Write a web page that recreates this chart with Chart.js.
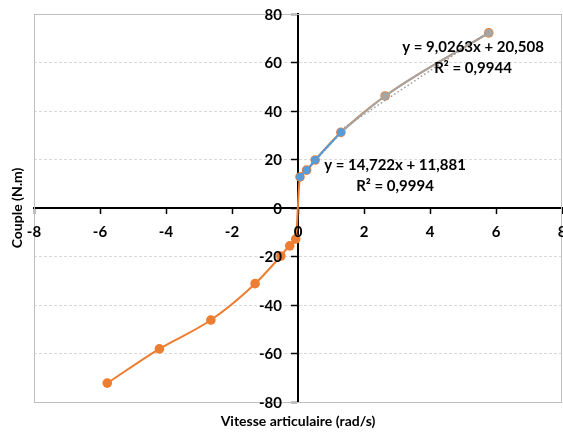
<!DOCTYPE html>
<html>
<head>
<meta charset="utf-8">
<script src="https://cdn.jsdelivr.net/npm/chart.js@4"></script>
<style>
  body { margin: 0; background: #fff; }
  #wrap { width: 563px; height: 434px; position: relative; }
</style>
</head>
<body>
<div id="wrap"><canvas id="chart"></canvas></div>
<script>
// ---- data ----
const orangeX = [-5.78, -4.2, -2.64, -1.3, -0.52, -0.25, -0.07, 0.06, 0.26, 0.52, 1.3, 2.64, 5.78];
const orangeY = [-72.2, -58.1, -46.2, -31.2, -19.8, -15.6, -12.8, 12.8, 15.6, 19.8, 31.2, 46.2, 72.2];
const blueX = [0.06, 0.26, 0.52, 1.3];
const blueY = [12.8, 15.6, 19.8, 31.2];
const grayX = [1.3, 2.64, 5.78];
const grayY = [31.2, 46.2, 72.2];

// trendlines (Excel linear fits shown on the chart)
const blueFit = { slope: 14.722, intercept: 11.881, label: ['y = 14,722x + 11,881', 'R² = 0,9994'] };
const grayFit = { slope: 9.0263, intercept: 20.508, label: ['y = 9,0263x + 20,508', 'R² = 0,9944'] };

const xTicks = [-8, -6, -4, -2, 0, 2, 4, 6, 8];
const yTicks = [-80, -60, -40, -20, 0, 20, 40, 60, 80];

const ORANGE = '#ED7D31';
const BLUE = '#5B9BD5';
const GRAY = '#A5A5A5';
const FONT = 'Lato, "Open Sans", sans-serif';

function pts(xs, ys) {
    return xs.map((x, i) => ({ x: x, y: ys[i] }));
}

function fitLine(fit, xs) {
    const x0 = Math.min(...xs), x1 = Math.max(...xs);
    return [{ x: x0, y: fit.slope * x0 + fit.intercept }, { x: x1, y: fit.slope * x1 + fit.intercept }];
}

// border box, tick labels, axis titles and trendline labels
const extrasPlugin = {
    id: 'extras',
    beforeDatasetsDraw(chart) {
        const { ctx, chartArea: a } = chart;
        ctx.save();
        ctx.strokeStyle = '#BFBFBF';
        ctx.lineWidth = 1;
        ctx.strokeRect(a.left + 0.5, a.top + 0.5, a.right - a.left - 1, a.bottom - a.top);
        ctx.restore();
    },
    afterDraw(chart) {
        const { ctx, scales: { x, y } } = chart;
        ctx.save();
        ctx.fillStyle = '#000';
        ctx.font = 'bold 15px ' + FONT;
        ctx.textBaseline = 'middle';

        // y tick labels, left of the centred axis
        ctx.textAlign = 'right';
        const axisX = x.getPixelForValue(0);
        yTicks.forEach(v => ctx.fillText(String(v), axisX - 16, y.getPixelForValue(v) + 1));

        // x tick labels, under the centred axis
        ctx.textAlign = 'center';
        const axisY = y.getPixelForValue(0);
        xTicks.forEach(v => ctx.fillText(String(v), x.getPixelForValue(v), axisY + 24));

        ctx.font = 'bold 14px ' + FONT;
        ctx.fillText('Vitesse articulaire (rad/s)', 298, 421);
        ctx.save();
        ctx.translate(17, 208);
        ctx.rotate(-Math.PI / 2);
        ctx.fillText('Couple (N.m)', 0, 0);
        ctx.restore();

        ctx.font = 'bold 15px ' + FONT;
        ctx.fillText(grayFit.label[0], 473, 47);
        ctx.fillText(grayFit.label[1], 473, 68);
        ctx.fillText(blueFit.label[0], 395, 165);
        ctx.fillText(blueFit.label[1], 395, 186);
        ctx.restore();
    }
};

new Chart(document.getElementById('chart'), {
    type: 'scatter',
    data: {
        datasets: [
            {
                label: 'trend bleu',
                data: fitLine(blueFit, blueX),
                showLine: true,
                borderColor: BLUE,
                borderWidth: 1.5,
                borderDash: [2, 2],
                pointRadius: 0
            },
            {
                label: 'bleu',
                data: pts(blueX, blueY),
                showLine: true,
                borderColor: BLUE,
                backgroundColor: BLUE,
                borderWidth: 2,
                pointRadius: 4,
                pointBorderWidth: 0,
                cubicInterpolationMode: 'monotone'
            },
            {
                label: 'trend gris',
                data: fitLine(grayFit, grayX),
                showLine: true,
                borderColor: '#9A9A9A',
                borderWidth: 1.5,
                borderDash: [1.5, 2.5],
                pointRadius: 0
            },
            {
                label: 'gris',
                data: pts(grayX, grayY),
                showLine: true,
                borderColor: GRAY,
                backgroundColor: GRAY,
                borderWidth: 2,
                pointRadius: 4,
                pointBorderWidth: 0,
                cubicInterpolationMode: 'monotone'
            },
            {
                label: 'orange',
                data: pts(orangeX, orangeY),
                showLine: true,
                borderColor: ORANGE,
                backgroundColor: ORANGE,
                borderWidth: 2,
                pointRadius: 4.8,
                pointBorderWidth: 0,
                cubicInterpolationMode: 'monotone'
            }
        ]
    },
    options: {
        responsive: true,
        maintainAspectRatio: false,
        animation: false,
        layout: { autoPadding: false, padding: { left: 34, top: 14, right: 1, bottom: 32 } },
        plugins: {
            legend: { display: false },
            tooltip: { enabled: false }
        },
        scales: {
            x: {
                type: 'linear',
                position: { y: 0 },
                min: -8,
                max: 8,
                afterBuildTicks: (s) => { s.ticks = xTicks.map(v => ({ value: v })); },
                ticks: { display: false },
                grid: {
                    drawOnChartArea: false,
                    drawTicks: true,
                    tickLength: 5,
                    tickColor: '#000',
                    tickWidth: 1.5
                },
                border: { color: '#000', width: 2 }
            },
            y: {
                type: 'linear',
                position: { x: 0 },
                min: -80,
                max: 80,
                afterBuildTicks: (s) => { s.ticks = yTicks.map(v => ({ value: v })); },
                ticks: { display: false },
                grid: {
                    color: (c) => (c.tick && c.tick.value === 80 ? '#BFBFBF' : '#D9D9D9'),
                    lineWidth: 1,
                    tickLength: 6,
                    tickColor: '#000',
                    tickWidth: 1.5
                },
                border: { color: '#000', width: 2, dash: [3, 2] }
            }
        }
    },
    plugins: [extrasPlugin]
});
</script>
</body>
</html>
